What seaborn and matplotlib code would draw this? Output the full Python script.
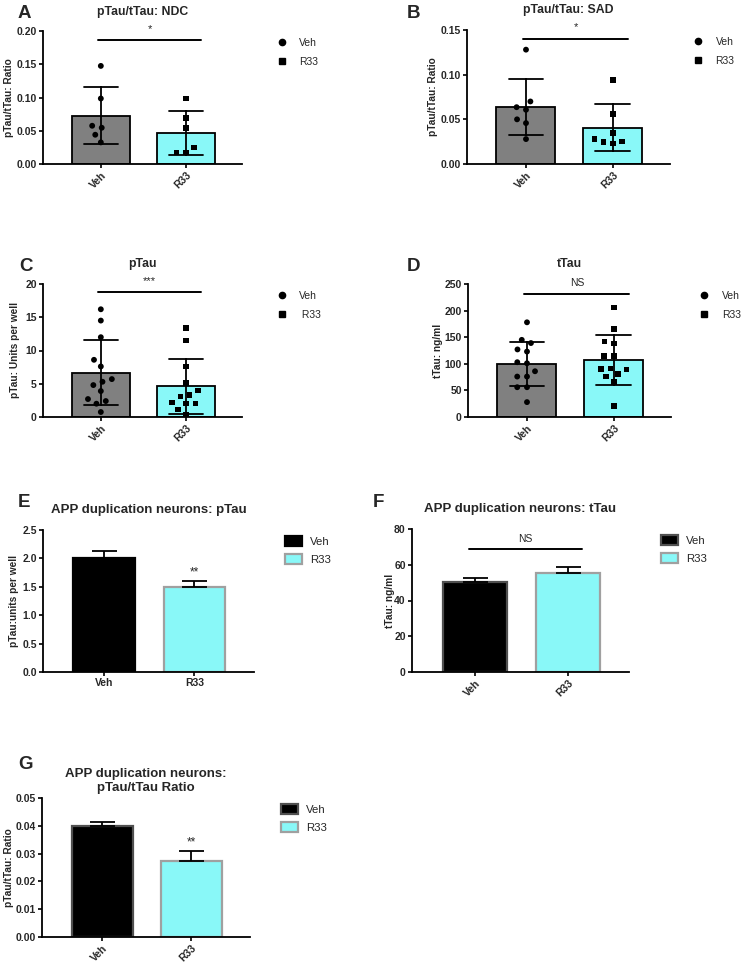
import pandas as pd
import matplotlib.pyplot as plt
import seaborn as sns
from matplotlib.lines import Line2D
from matplotlib.patches import Patch
from matplotlib.ticker import FormatStrFormatter

sns.set_style("ticks")
plt.rcParams["font.family"] = ["Liberation Sans", "DejaVu Sans"]
plt.rcParams["font.weight"] = "bold"
plt.rcParams["axes.labelweight"] = "bold"
plt.rcParams["axes.titleweight"] = "bold"

groups = ["Veh", "R33"]

# A - pTau/tTau ratio, NDC lines
ndc_veh = [0.1475, 0.0985, 0.0575, 0.0545, 0.044, 0.0325]
ndc_r33 = [0.0985, 0.069, 0.0545, 0.0245, 0.017, 0.017]
# B - pTau/tTau ratio, SAD lines
sad_veh = [0.128, 0.070, 0.0636, 0.0607, 0.050, 0.0458, 0.0279]
sad_r33 = [0.0938, 0.0558, 0.0346, 0.0279, 0.0253, 0.0246, 0.0227]
# C - pTau units per well
ptau_veh = [16.2, 14.5, 12.0, 8.6, 7.6, 5.7, 5.3, 4.8, 3.9, 2.7, 2.4, 2.0, 0.75]
ptau_r33 = [13.4, 11.5, 7.6, 5.1, 4.0, 3.3, 3.1, 2.2, 2.0, 2.0, 1.1, 0.4]
# D - tTau ng/ml
ttau_veh = [178, 145, 139, 123, 127, 103, 101, 86, 76, 76, 56, 56, 28]
ttau_r33 = [206, 165, 138, 142, 115, 115, 91, 89, 90, 76, 81, 66, 21]

# E-G - APP duplication neurons, mean and SEM
app_ptau_mean = [2.0, 1.49]
app_ptau_sem = [0.13, 0.12]
app_ttau_mean = [50.4, 55.2]
app_ttau_sem = [2.0, 3.5]
app_ratio_mean = [0.0398, 0.0275]
app_ratio_sem = [0.0016, 0.0036]

gray = "#808080"
cyan = "#89F8F8"

fig = plt.figure(figsize=(7.44, 9.66), dpi=100)
W, H = 744, 966


def make_ax(left, top, right, bottom):
    return fig.add_axes([left / W, 1 - bottom / H, (right - left) / W, (bottom - top) / H])


def style_ax(ax, ylim, yticks, fmt, ylabel, labx, rotate=True):
    ax.set_xlim(-0.68, 1.66)
    ax.set_ylim(*ylim)
    ax.set_yticks(yticks)
    if fmt:
        ax.yaxis.set_major_formatter(FormatStrFormatter(fmt))
    ax.set_xlabel("")
    ax.set_ylabel(ylabel, fontsize=7.3)
    ax.yaxis.set_label_coords(labx, 0.5)
    sns.despine(ax=ax)
    for s in ["left", "bottom"]:
        ax.spines[s].set_linewidth(1.3)
        ax.spines[s].set_color("black")
    ax.tick_params(axis="both", labelsize=7.5, width=1.2, length=3, color="black", pad=1.5)
    if rotate:
        ax.set_xticks([0, 1])
        ax.set_xticklabels(groups, rotation=45, ha="right", rotation_mode="anchor")


def sig(ax, y, text, ty, x0=-0.03, x1=1.18, size=8):
    ax.plot([x0, x1], [y, y], color="black", lw=1.4, clip_on=False)
    ax.text((x0 + x1) / 2, ty, text, ha="center", va="center", fontsize=size,
            fontweight="normal", clip_on=False)


def dot_panel(ax, veh, r33, legx, r33_label="R33"):
    df = pd.DataFrame({"group": ["Veh"] * len(veh) + ["R33"] * len(r33),
                       "value": veh + r33})
    sns.barplot(data=df, x="group", y="value", hue="group", order=groups,
                hue_order=groups, palette=[gray, cyan], saturation=1, errorbar="sd",
                capsize=0.4, width=0.68, edgecolor="black", linewidth=1.3,
                err_kws={"color": "black", "linewidth": 1.3}, legend=False, ax=ax)
    # invisible wide edge spreads the swarm like the Prism layout
    sns.swarmplot(data=df[df.group == "Veh"], x="group", y="value", order=groups,
                  color="black", marker="o", size=4.2, linewidth=2.5, edgecolor="none",
                  ax=ax, zorder=5)
    sns.swarmplot(data=df[df.group == "R33"], x="group", y="value", order=groups,
                  color="black", marker="s", size=4.0, linewidth=2.5, edgecolor="none",
                  ax=ax, zorder=5)
    handles = [Line2D([], [], marker="o", ls="", color="black", markersize=4.5),
               Line2D([], [], marker="s", ls="", color="black", markersize=4.2)]
    ax.legend(handles, ["Veh", r33_label], loc="upper left", bbox_to_anchor=(legx, 1.02),
              frameon=False, prop={"size": 7.5, "weight": "normal"},
              handletextpad=0.7, labelspacing=0.85)


def mean_panel(ax, means, sems, edges):
    sns.barplot(x=groups, y=means, hue=groups, palette=["black", cyan], saturation=1,
                width=0.685, linewidth=1.6, legend=False, ax=ax)
    for patch, ec in zip(ax.patches, edges):
        patch.set_edgecolor(ec)
    ax.errorbar([0, 1], means, yerr=[[0, 0], sems], fmt="none", ecolor="black",
                elinewidth=1.3, capsize=9, capthick=1.3, zorder=4)
    handles = [Patch(facecolor="black", edgecolor=edges[0], lw=1.6),
               Patch(facecolor=cyan, edgecolor=edges[1], lw=1.6)]
    ax.legend(handles, groups, loc="upper left", bbox_to_anchor=(1.1, 1.03),
              frameon=False, prop={"size": 8.2, "weight": "normal"},
              handlelength=1.5, handleheight=1.0, handletextpad=0.7, labelspacing=0.6)


# A
axA = make_ax(43, 31, 242, 164)
dot_panel(axA, ndc_veh, ndc_r33, 1.1)
style_ax(axA, (0, 0.20), [0, 0.05, 0.10, 0.15, 0.20], "%.2f", "pTau/tTau: Ratio", -0.148)
axA.set_title("pTau/tTau: NDC", fontsize=8.8, pad=11.5)
sig(axA, 0.186, "*", 0.2035)

# B
axB = make_ax(467, 30, 670, 164)
dot_panel(axB, sad_veh, sad_r33, 1.04)
style_ax(axB, (0, 0.15), [0, 0.05, 0.10, 0.15], "%.2f", "pTau/tTau: Ratio", -0.143)
axB.set_title("pTau/tTau: SAD", fontsize=8.8, pad=12.5)
sig(axB, 0.1403, "*", 0.1535)

# C
axC = make_ax(43, 284, 242, 417)
dot_panel(axC, ptau_veh, ptau_r33, 1.1, r33_label=" R33")
style_ax(axC, (0, 20), [0, 5, 10, 15, 20], None, "pTau: Units per well", -0.116)
axC.set_title("pTau", fontsize=8.8, pad=12)
sig(axC, 18.75, "***", 20.4)

# D
axD = make_ax(468, 284, 671, 417)
dot_panel(axD, ttau_veh, ttau_r33, 1.065)
style_ax(axD, (0, 250), [0, 50, 100, 150, 200, 250], None, "tTau: ng/ml", -0.123)
axD.set_title("tTau", fontsize=8.8, pad=12)
sig(axD, 232, "NS", 251, size=7.5)

# E
axE = make_ax(43, 530, 254, 672)
mean_panel(axE, app_ptau_mean, app_ptau_sem, ["black", "#A0A0A0"])
style_ax(axE, (0, 2.5), [0, 0.5, 1.0, 1.5, 2.0, 2.5], "%.1f", "pTau:units per well", -0.116, rotate=False)
axE.set_xticks([0, 1])
axE.set_xticklabels(groups)
axE.set_title("APP duplication neurons: pTau", fontsize=9.5, pad=12)
axE.text(1, 1.65, "**", ha="center", va="bottom", fontsize=8.5, fontweight="normal")

# F
axF = make_ax(412, 529, 629, 672)
mean_panel(axF, app_ttau_mean, app_ttau_sem, ["#505050", "#A0A0A0"])
style_ax(axF, (0, 80), [0, 20, 40, 60, 80], None, "tTau: ng/ml", -0.078)
axF.set_title("APP duplication neurons: tTau", fontsize=9.5, pad=12)
sig(axF, 68.8, "NS", 74.5, x0=-0.07, x1=1.15, size=7.5)

# G
axG = make_ax(42, 798, 250, 937)
mean_panel(axG, app_ratio_mean, app_ratio_sem, ["#505050", "#A0A0A0"])
style_ax(axG, (0, 0.05), [0, 0.01, 0.02, 0.03, 0.04, 0.05], "%.2f", "pTau/tTau: Ratio", -0.137)
axG.set_title("APP duplication neurons:\npTau/tTau Ratio", fontsize=9.5, pad=5, linespacing=1.25)
axG.text(1, 0.0318, "**", ha="center", va="bottom", fontsize=8.5, fontweight="normal")

# panel letters
for letter, x, y in [("A", 18, 18), ("B", 407, 18), ("C", 19, 271), ("D", 407, 271),
                     ("E", 18, 507), ("F", 373, 507), ("G", 18, 769)]:
    fig.text(x / W, 1 - y / H, letter, fontsize=13.5, fontweight="bold", ha="left", va="baseline")

fig.savefig("out.png", dpi=100)
